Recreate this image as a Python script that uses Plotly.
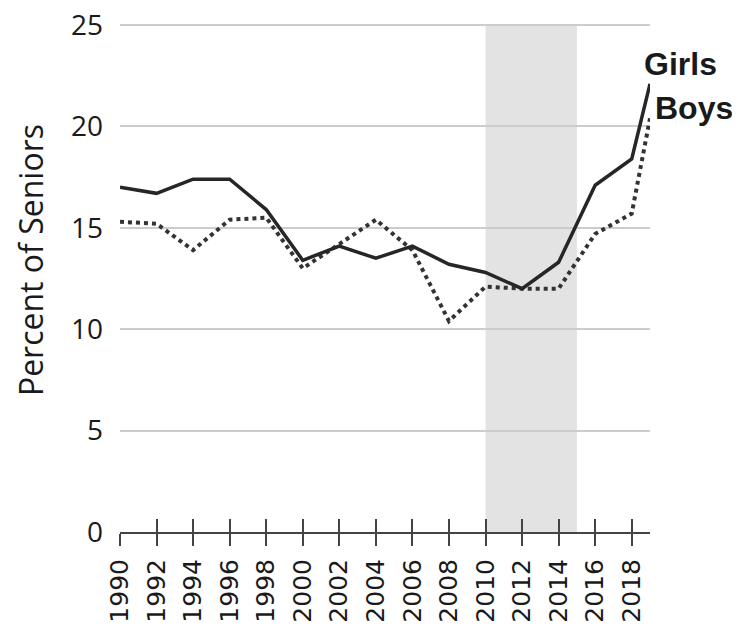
import plotly.graph_objects as go

years = [1990, 1992, 1994, 1996, 1998, 2000, 2002, 2004, 2006, 2008,
         2010, 2012, 2014, 2016, 2018, 2019]
girls = [17.0, 16.7, 17.4, 17.4, 15.9, 13.4, 14.1, 13.5, 14.1, 13.2,
         12.8, 12.0, 13.3, 17.1, 18.4, 22.1]
boys = [15.3, 15.2, 13.9, 15.4, 15.5, 13.0, 14.2, 15.4, 13.9, 10.4,
        12.1, 12.0, 12.0, 14.7, 15.7, 20.4]
tick_years = list(range(1990, 2019, 2))
y_ticks = [0, 5, 10, 15, 20, 25]
shade_start, shade_end = 2010, 2015

fig = go.Figure()

# shaded period
fig.add_shape(type='rect', xref='x', yref='y', x0=shade_start, x1=shade_end,
              y0=0, y1=25, fillcolor='#e3e3e3', line=dict(width=0), layer='below')

fig.add_trace(go.Scatter(x=years, y=boys, mode='lines', name='Boys',
                         line=dict(color='#333333', width=4, dash='dot')))
fig.add_trace(go.Scatter(x=years, y=girls, mode='lines', name='Girls',
                         line=dict(color='#262626', width=3.5)))

label_font = dict(family='Liberation Sans', size=32, color='#1a1a1a')
fig.add_annotation(x=0.985, y=0.919, xref='paper', yref='paper', text='<b>Girls</b>',
                   showarrow=False, xanchor='left', yanchor='middle', font=label_font)
fig.add_annotation(x=1.005, y=0.833, xref='paper', yref='paper', text='<b>Boys</b>',
                   showarrow=False, xanchor='left', yanchor='middle', font=label_font)

# y axis title, placed as in the original (a little above centre)
fig.add_annotation(x=-0.170, y=0.534, xref='paper', yref='paper',
                   text='Percent of Seniors', textangle=-90, showarrow=False,
                   xanchor='center', yanchor='middle',
                   font=dict(family='Open Sans', size=32, color='#1a1a1a'))

fig.update_layout(
    width=732, height=619,
    margin=dict(l=112, r=90, t=15, b=95),
    plot_bgcolor='white', paper_bgcolor='white',
    showlegend=False,
    xaxis=dict(range=[1990, 2019], tickvals=tick_years, tickangle=-90,
               ticks='outside', ticklen=12, tickwidth=2, tickcolor='#444',
               showline=True, linecolor='#444', linewidth=2,
               showgrid=False, zeroline=False, automargin=False,
               ticklabelstandoff=3, ticklabeloverflow='allow',
               tickfont=dict(family='DejaVu Sans', size=25, color='#1a1a1a')),
    xaxis2=dict(range=[1990, 2019], tickvals=tick_years, overlaying='x',
                side='bottom', ticks='inside', ticklen=13, tickwidth=2,
                tickcolor='#444', showticklabels=False, showgrid=False,
                zeroline=False, showline=False, automargin=False),
    # a little headroom above 25 so its grid line is kept
    yaxis=dict(range=[0, 25.1], tickvals=y_ticks, showgrid=True,
               gridcolor='#cccccc', gridwidth=1.5, zeroline=False,
               ticks='', ticklabelstandoff=16, automargin=False,
               ticklabeloverflow='allow',
               tickfont=dict(family='Open Sans', size=28, color='#1a1a1a')),
)

# dummy trace so the inside ticks of xaxis2 are drawn
fig.add_trace(go.Scatter(x=[1990], y=[None], xaxis='x2', showlegend=False,
                         hoverinfo='skip'))

fig.write_html('out.html')
